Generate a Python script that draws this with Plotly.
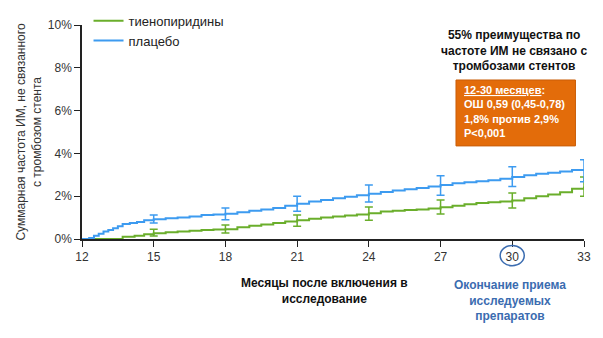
import plotly.graph_objects as go

# Data (months after enrollment, cumulative %)
blue_x = [12.0, 12.3, 12.5, 12.7, 12.9, 13.1, 13.3, 13.5, 13.7, 14.0, 14.3, 14.6, 15.0, 15.5, 16.0, 16.5,
          17.0, 17.5, 18.0, 18.5, 19.0, 19.5, 20.0, 20.5, 21.0, 21.5, 22.0, 22.5, 23.0, 23.5, 24.0, 24.5,
          25.0, 25.5, 26.0, 26.5, 27.0, 27.5, 28.0, 28.5, 29.0, 29.5, 30.0, 30.5, 31.0, 31.5, 32.0, 32.5, 33.0]
blue_y = [0, 0.05, 0.15, 0.25, 0.35, 0.42, 0.5, 0.6, 0.7, 0.75, 0.8, 0.88, 0.92, 0.97, 1.0, 1.05,
          1.12, 1.15, 1.18, 1.25, 1.32, 1.38, 1.45, 1.55, 1.65, 1.75, 1.82, 1.9, 1.98, 2.05, 2.12, 2.2,
          2.27, 2.33, 2.38, 2.45, 2.52, 2.6, 2.65, 2.7, 2.75, 2.82, 2.9, 2.98, 3.05, 3.1, 3.15, 3.22, 3.22]
green_x = [12.0, 13.7, 14.2, 14.6, 15.0, 15.5, 16.0, 16.5, 17.0, 17.5, 18.0, 18.5, 19.0, 19.5, 20.0, 20.5,
           21.0, 21.5, 22.0, 22.5, 23.0, 23.5, 24.0, 24.5, 25.0, 25.5, 26.0, 26.5, 27.0, 27.5, 28.0, 28.5,
           29.0, 29.5, 30.0, 30.5, 31.0, 31.5, 32.0, 32.5, 33.0]
green_y = [0, 0.1, 0.15, 0.22, 0.27, 0.32, 0.35, 0.38, 0.42, 0.44, 0.46, 0.55, 0.62, 0.68, 0.75, 0.82,
           0.88, 0.95, 1.0, 1.05, 1.1, 1.15, 1.2, 1.28, 1.32, 1.35, 1.38, 1.42, 1.48, 1.55, 1.62, 1.68,
           1.72, 1.75, 1.8, 1.9, 2.0, 2.08, 2.18, 2.35, 2.45]

err_x = [15, 18, 21, 24, 27, 30, 33]
blue_err_mid = [0.92, 1.18, 1.65, 2.12, 2.52, 2.9, 3.22]
blue_err_hi = [1.12, 1.45, 2.0, 2.52, 2.95, 3.38, 3.7]
blue_err_lo = [0.75, 0.9, 1.3, 1.73, 2.05, 2.45, 2.68]
green_err_mid = [0.27, 0.46, 0.88, 1.2, 1.48, 1.8, 2.45]
green_err_hi = [0.45, 0.65, 1.12, 1.5, 1.82, 2.15, 2.9]
green_err_lo = [0.14, 0.28, 0.6, 0.88, 1.17, 1.45, 2.0]

x_ticks = [12, 15, 18, 21, 24, 27, 30, 33]
y_ticks = [0, 2, 4, 6, 8, 10]
y_labels = ["0%", "2%", "4%", "6%", "8%", "10%"]

GREEN = "#6AAE2B"
BLUE = "#3D9BF0"
ORANGE = "#E36C0A"
DBLUE = "#3B6CB0"

fig = go.Figure()
fig.add_trace(go.Scatter(x=green_x, y=green_y, mode="lines", line=dict(color=GREEN, width=2, shape="hv"),
                         name="тиенопиридины"))
fig.add_trace(go.Scatter(x=blue_x, y=blue_y, mode="lines", line=dict(color=BLUE, width=2, shape="hv"),
                         name="плацебо"))
for mid, hi, lo, col in [(green_err_mid, green_err_hi, green_err_lo, GREEN),
                         (blue_err_mid, blue_err_hi, blue_err_lo, BLUE)]:
    fig.add_trace(go.Scatter(
        x=err_x, y=mid, mode="markers", marker=dict(size=1, color=col, opacity=0), showlegend=False,
        cliponaxis=False,
        error_y=dict(type="data", symmetric=False,
                     array=[h - m for h, m in zip(hi, mid)],
                     arrayminus=[m - l for m, l in zip(mid, lo)],
                     color=col, thickness=1.5, width=4)))

FONT = "Liberation Sans, Arial, sans-serif"
fig.update_layout(
    width=603, height=338,
    margin=dict(l=82, r=19, t=25, b=99, autoexpand=False),
    paper_bgcolor="white", plot_bgcolor="white",
    font=dict(family=FONT, size=12, color="#333333"),
    showlegend=True,
    legend=dict(x=0.013, y=1.09, xanchor="left", yanchor="top", bgcolor="rgba(0,0,0,0)",
                font=dict(size=13, color="#222222"), tracegroupgap=0, itemwidth=30),
    xaxis=dict(range=[12, 33], tickvals=x_ticks, ticktext=[str(v) for v in x_ticks],
               showgrid=False, zeroline=False, showline=True, linecolor="#222222", linewidth=1.5,
               ticks="outside", ticklen=6, tickcolor="#222222", tickfont=dict(size=12, color="#333333")),
    yaxis=dict(range=[0, 10], tickvals=y_ticks, ticktext=y_labels,
               showgrid=False, zeroline=False, showline=True, linecolor="#222222", linewidth=1.5,
               ticks="outside", ticklen=6, tickcolor="#222222", tickfont=dict(size=12, color="#333333"),
               title=dict(text="Суммарная частота ИМ, не связанного<br>с тромбозом стента",
                          font=dict(size=12, color="#333333"), standoff=4)),
)

fig.add_annotation(xref="paper", yref="paper", x=0.86, y=0.995, xanchor="center", yanchor="top",
                   text="<b>55% преимущества по<br>частоте ИМ не связано с<br>тромбозами стентов</b>",
                   showarrow=False, align="center", font=dict(size=12, color="#111111", family=FONT))
fig.add_shape(type="rect", xref="paper", yref="paper", x0=0.745, x1=0.983, y0=0.435, y1=0.743,
              fillcolor=ORANGE, line=dict(color="#C95E08", width=1), layer="above")
fig.add_annotation(xref="paper", yref="paper", x=0.757, y=0.735, xanchor="left", yanchor="top",
                   text="<b><u>12-30 месяцев</u>:<br>ОШ 0,59 (0,45-0,78)<br>1,8% против 2,9%<br>P&lt;0,001</b>",
                   showarrow=False, align="left", font=dict(size=11, color="white", family=FONT))
fig.add_annotation(xref="paper", yref="paper", x=0.483, y=-0.165, xanchor="center", yanchor="top",
                   text="<b>Месяцы после включения в<br>исследование</b>",
                   showarrow=False, align="center", font=dict(size=12, color="#111111", family=FONT))
fig.add_annotation(xref="paper", yref="paper", x=0.852, y=-0.175, xanchor="center", yanchor="top",
                   text="<b>Окончание приема<br>исследуемых<br>препаратов</b>",
                   showarrow=False, align="center", font=dict(size=12, color=DBLUE, family=FONT))
fig.add_shape(type="circle", xref="paper", yref="paper", x0=0.833, x1=0.881, y0=-0.125, y1=-0.03,
              line=dict(color=DBLUE, width=1.5))

fig.write_html("out.html")
